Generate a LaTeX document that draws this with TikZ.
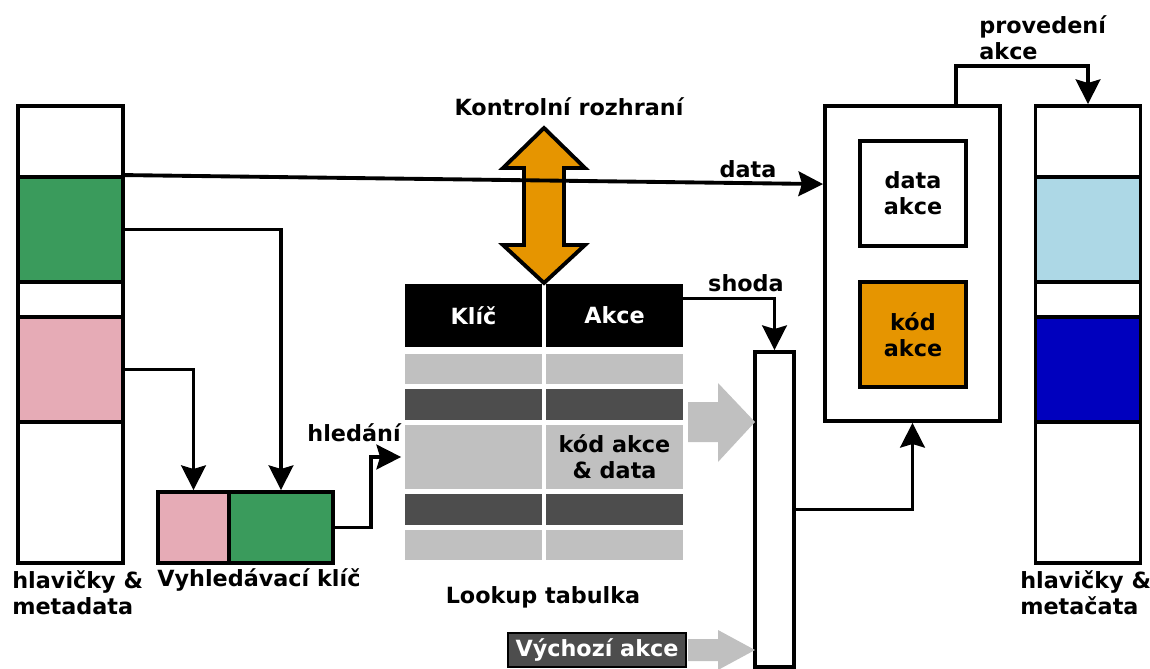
\documentclass[tikz,border=0pt]{standalone}
\usepackage{fontspec}
\setmainfont{DejaVu Sans}
\usepackage{xcolor}
\usetikzlibrary{arrows.meta, calc}
\definecolor{keygreen}{RGB}{58,155,92}
\definecolor{keypink}{RGB}{230,171,182}
\definecolor{outblue}{RGB}{173,216,230}
\definecolor{outdark}{RGB}{0,0,190}
\definecolor{actorange}{RGB}{230,149,0}
\definecolor{rowlight}{RGB}{192,192,192}
\definecolor{rowdark}{RGB}{77,77,77}

\begin{document}
\begin{tikzpicture}[x=0.02cm, y=-0.02cm,
    font=\fontsize{12.7}{14.7}\selectfont\bfseries,
    box/.style={draw, line width=2.2pt, minimum width=2.1cm, anchor=center, inner sep=0pt, align=center},
    row/.style={minimum width=2.74cm, inner sep=0pt, anchor=center, align=center},
    conn/.style={line width=2.2pt, -{Stealth[length=14pt, width=14pt, inset=2pt]}},
    lbl/.style={inner sep=0pt, align=left}]
\useasboundingbox (0,0) rectangle (1150,669);

% input packet
\node[box, minimum height=1.42cm] (lw1) at (70.5,141.5) {};
\node[box, fill=keygreen, minimum height=2.1cm] (lgrn) at (70.5,229.5) {};
\node[box, minimum height=0.7cm] (lw2) at (70.5,299.5) {};
\node[box, fill=keypink, minimum height=2.1cm] (lpnk) at (70.5,369.5) {};
\node[box, minimum height=2.82cm] (lw3) at (70.5,492.5) {};

% output packet
\node[box, minimum height=1.42cm] (rw1) at (1088,141.5) {};
\node[box, fill=outblue, minimum height=2.1cm] (rblu) at (1088,229.5) {};
\node[box, minimum height=0.7cm] (rw2) at (1088,299.5) {};
\node[box, fill=outdark, minimum height=2.1cm] (rdrk) at (1088,369.5) {};
\node[box, minimum height=2.82cm] (rw3) at (1088,492.5) {};

% search key
\node[box, fill=keypink, minimum width=1.42cm, minimum height=1.42cm] (kpnk) at (193.5,527.5) {};
\node[box, fill=keygreen, minimum width=2.08cm, minimum height=1.42cm] (kgrn) at (281,527.5) {};

% lookup table
\node[row, fill=black, text=white, minimum height=1.26cm] (hkey) at (473.5,315.5) {Klíč};
\node[row, fill=black, text=white, minimum height=1.26cm] (hact) at (614.5,315.5) {Akce};
\node[row, fill=rowlight, minimum height=0.6cm] (r1k) at (473.5,369) {};
\node[row, fill=rowlight, minimum height=0.6cm] (r1a) at (614.5,369) {};
\node[row, fill=rowdark, minimum height=0.62cm] (r2k) at (473.5,404.5) {};
\node[row, fill=rowdark, minimum height=0.62cm] (r2a) at (614.5,404.5) {};
\node[row, fill=rowlight, minimum height=1.28cm] (r3k) at (473.5,457) {};
\node[row, fill=rowlight, minimum height=1.28cm] (r3a) at (614.5,457) {kód akce\\\& data};
\node[row, fill=rowdark, minimum height=0.62cm] (r4k) at (473.5,509.5) {};
\node[row, fill=rowdark, minimum height=0.62cm] (r4a) at (614.5,509.5) {};
\node[row, fill=rowlight, minimum height=0.6cm] (r5k) at (473.5,545) {};
\node[row, fill=rowlight, minimum height=0.6cm] (r5a) at (614.5,545) {};

% selector and action unit
\node[box, minimum width=0.78cm, minimum height=6.3cm] (sel) at (774.5,509.5) {};
\node[box, minimum width=3.5cm, minimum height=6.3cm] (act) at (912.5,263.5) {};
\node[box, minimum width=2.12cm, minimum height=2.1cm] (adata) at (913,193.5) {data\\akce};
\node[box, fill=actorange, minimum width=2.12cm, minimum height=2.1cm] (acode) at (913,334.5) {kód\\akce};

\node[draw, line width=1pt, fill=rowdark, text=white, minimum width=3.56cm, minimum height=0.68cm, inner sep=0pt] (dflt) at (597,650) {Výchozí akce};

% block arrows
\fill[rowlight] (688,402) -- (718,402) -- (718,383) -- (755,422) -- (718,462) -- (718,442) -- (688,442) -- cycle;
\fill[rowlight] (688,639) -- (718,639) -- (718,630) -- (755,650) -- (718,670) -- (718,661) -- (688,661) -- cycle;
\draw[line width=2.2pt, fill=actorange] (544,128) -- (585,168) -- (564,168) -- (564,245) -- (585,245) -- (544,283)
    -- (503,245) -- (524,245) -- (524,168) -- (503,168) -- cycle;

% connectors
\draw[conn] (lgrn.north east) -- ($(act.north west)+(0,80)$);
\draw[conn] (lgrn.east) -| (kgrn.north);
\draw[conn] (lpnk.east) -| (kpnk.north);
\draw[conn] (kgrn.east) -- ++(36,0) |- ([xshift=-2pt]r3k.west);
\draw[conn] ($(hact.east)+(0,-17)$) -| (sel.north);
\draw[conn] (sel.east) -| (act.south);
\draw[conn] ($(act.north)+(43.5,0)$) -- ++(0,-38) -| (rw1.north);

% labels
\node[lbl] (tctl) at (569,107) {Kontrolní rozhraní};
\node[lbl] (tdata) at (748,169) {data};
\node[lbl] (tmatch) at (746,283) {shoda};
\node[lbl, anchor=west] (texec) at (979,38) {provedení\\akce};
\node[lbl, anchor=east] (tsearch) at (401,433) {hledání};
\node[lbl] (ttab) at (543,597) {Lookup tabulka};
\node[lbl, anchor=west] (tkey) at (157,580) {Vyhledávací klíč};
\node[lbl, anchor=west] (tin) at (12,593) {hlavičky \&\\metadata};
\node[lbl, anchor=west] (tout) at (1020,593) {hlavičky \&\\metačata};
\end{tikzpicture}
\end{document}
